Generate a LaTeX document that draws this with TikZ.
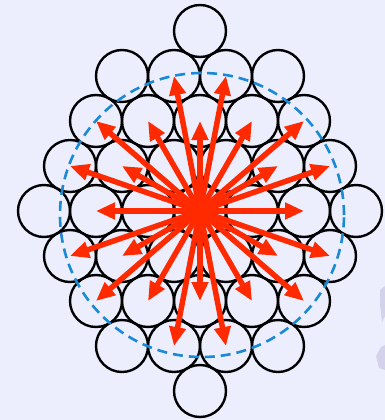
\documentclass[tikz,border=0pt]{standalone}
\usetikzlibrary{arrows.meta}
\definecolor{bgc}{HTML}{ECEEFE}
\definecolor{arrred}{HTML}{FF2A00}
\definecolor{dashblue}{HTML}{1A8AD4}
\definecolor{ghost}{HTML}{D3D2EA}
\begin{document}
\begin{tikzpicture}[x=1pt,y=-1pt,
  ball/.style={circle,draw=black,line width=2.4pt,minimum size=52pt,inner sep=0pt},
  arr/.style={draw=arrred,line width=5.5pt,-{Triangle[length=19pt,width=16pt]}},
  ring/.style={draw=dashblue,line width=2.6pt,dash pattern=on 10pt off 6pt}]
\useasboundingbox[fill=bgc] (0,0) rectangle (385,420);
% faint artefacts at right edge
\fill[ghost] (380,290) -- (385,286) -- (385,316) -- (382,322) -- (380,305) -- cycle;
\fill[ghost] (376,356) -- (381,347) -- (385,345) -- (385,370) -- (379,368) -- cycle;
% circles
\node[ball] (n-1-1) at (200,31) {};
\foreach \k/\x in {1/122,2/174,3/226,4/278} \node[ball] (n-2-\k) at (\x,76) {};
\foreach \k/\x in {1/96,2/148,3/200,4/252,5/304} \node[ball] (n-3-\k) at (\x,121) {};
\foreach \k/\x in {1/70,2/122,3/174,4/226,5/278,6/330} \node[ball] (n-4-\k) at (\x,166) {};
\foreach \k/\x in {1/44,2/96,3/148,4/200,5/252,6/304,7/356} \node[ball] (n-5-\k) at (\x,211) {};
\foreach \k/\x in {1/70,2/122,3/174,4/226,5/278,6/330} \node[ball] (n-6-\k) at (\x,256) {};
\foreach \k/\x in {1/96,2/148,3/200,4/252,5/304} \node[ball] (n-7-\k) at (\x,301) {};
\foreach \k/\x in {1/122,2/174,3/226,4/278} \node[ball] (n-8-\k) at (\x,346) {};
\node[ball] (n-9-1) at (200,391) {};
% dashed cutoff ring
\coordinate (rc) at (202,215);
\draw[ring] (rc) circle (142pt);
% arrows from the central circle
\foreach \t in {n-2-2,n-2-3,n-3-1,n-3-2,n-3-3,n-3-4,n-3-5,n-4-1,n-4-2,n-4-5,n-4-6,n-5-2,n-5-6,
                n-6-1,n-6-2,n-6-5,n-6-6,n-7-1,n-7-2,n-7-3,n-7-4,n-7-5,n-8-2,n-8-3}
  \draw[arr] (n-5-4.center) -- (\t.center);
\end{tikzpicture}
\end{document}
